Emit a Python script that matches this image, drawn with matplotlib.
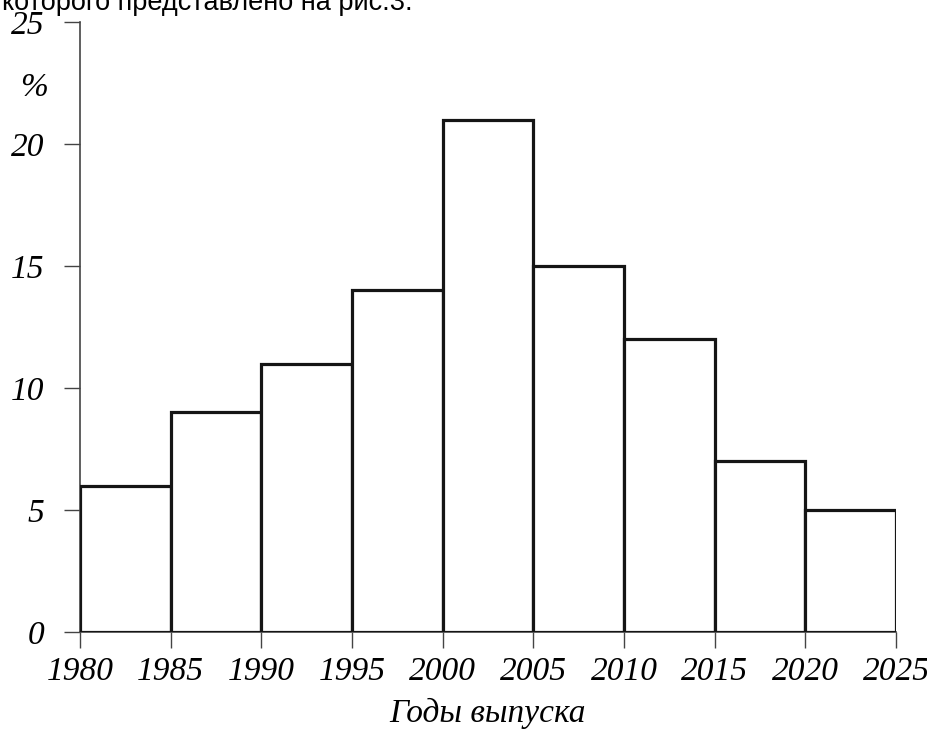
import matplotlib.pyplot as plt

# Histogram data
years = [1980, 1985, 1990, 1995, 2000, 2005, 2010, 2015, 2020, 2025]
percent = [6, 9, 11, 14, 21, 15, 12, 7, 5]
yticks = [0, 5, 10, 15, 20, 25]

serif = {'family': 'Liberation Serif', 'style': 'italic', 'size': 24}

fig = plt.figure(figsize=(9.28, 7.33), dpi=100)
ax = fig.add_axes([80 / 928, 1 - 632 / 733, (896 - 80) / 928, (632 - 22) / 733])

widths = [years[i + 1] - years[i] for i in range(len(percent))]
ax.bar(years[:-1], percent, width=widths, align='edge',
       facecolor='white', edgecolor='#151515', linewidth=2.3, zorder=3)

ax.set_xlim(years[0], years[-1])
ax.set_ylim(0, 25)
ax.set_xticks(years)
ax.set_yticks(yticks)
ax.set_xticklabels([str(y) for y in years], fontdict=serif)
ax.set_yticklabels([str(v) for v in yticks], fontdict=serif)

for side in ['top', 'right']:
    ax.spines[side].set_visible(False)
for side in ['left', 'bottom']:
    ax.spines[side].set_color('#444444')
    ax.spines[side].set_linewidth(1.2)

ax.tick_params(axis='both', direction='out', length=11.5, width=1.0, color='#444444')
ax.tick_params(axis='y', pad=14)
ax.tick_params(axis='x', pad=6)

ax.set_xlabel('Годы выпуска', fontdict=serif, labelpad=8)
fig.text(34 / 928, 1 - 88 / 733, '%', ha='center', va='center', **serif)

# partially visible line of text above the chart (cut at the top, as in the scan)
fig.text(2 / 928, 1 - 10 / 733, 'которого представлено на рис.3.',
         ha='left', va='baseline', family='Liberation Sans', size=19.5)

fig.savefig('out.png', dpi=100)
